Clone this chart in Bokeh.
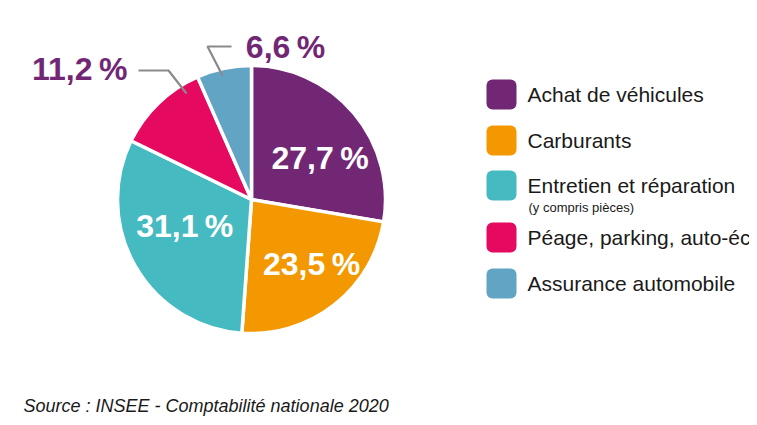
import numpy as np
from bokeh.plotting import figure
from bokeh.models import Range1d, ColumnDataSource
from bokeh.core.properties import value
from bokeh.embed import file_html
from bokeh.resources import INLINE

# ---- data ----
categories = ["Achat de véhicules", "Carburants", "Entretien et réparation",
              "Péage, parking, auto-éc", "Assurance automobile"]
shares = [27.7, 23.5, 31.1, 11.2, 6.6]
colors = ["#722775", "#F39800", "#45BBC1", "#E5095F", "#62A4C4"]
legend_note = "(y compris pièces)"
source_text = "Source : INSEE - Comptabilité nationale 2020"

# ---- layout ----
W, H = 749, 417
def X(rx):
    return rx
def Y(ry):
    return H - ry

CX, CY, R = X(251), Y(199), 134
# label polar positions (radius px, angle deg) per slice
label_polar = [(80, 31), (88, -47), (72, 202), (216, 142.7), (156, 77.4)]
label_inside = [True, True, True, False, False]
# leader lines for outside labels, offsets (dx, dy) from pie centre
leaders = {3: [(-113, 129), (-83, 129), (-65, 106)],
           4: [(-20, 153), (-44, 153), (-29, 124)]}
legend_rows = [94, 140, 185, 237, 283]
note_row = 207

FONT = "Liberation Sans"

p = figure(width=W, height=H, x_range=Range1d(0, W), y_range=Range1d(0, H),
           output_backend="svg", toolbar_location=None, min_border=0,
           x_axis_location=None, y_axis_location=None)
p.grid.visible = False
p.outline_line_color = None
p.background_fill_color = "white"
p.border_fill_color = "white"

# ---- pie ----
vals = np.array(shares, dtype=float)
frac = vals / vals.sum()
cum = np.concatenate([[0], np.cumsum(frac)[:-1]])
start = np.pi / 2 - 2 * np.pi * cum
end = start - 2 * np.pi * frac
src = ColumnDataSource(dict(start=start, end=end, color=colors))
p.wedge(x=CX, y=CY, radius=R, start_angle="start", end_angle="end",
        direction="clock", fill_color="color", line_color="white",
        line_width=3.5, source=src)

# ---- labels ----
txt = [f"{v:.1f}".replace(".", ",") + "\u2009%" for v in shares]
lx = [CX + r * np.cos(np.radians(a)) for r, a in label_polar]
ly = [CY + r * np.sin(np.radians(a)) for r, a in label_polar]
lc = ["white" if ins else "#722775" for ins in label_inside]
p.text(x=lx, y=ly, text=txt, text_color=lc, text_font=value(FONT),
       text_font_style="bold", text_font_size="32px",
       text_align="center", text_baseline="middle")

for i, pts in leaders.items():
    p.line(x=[CX + dx for dx, dy in pts], y=[CY + dy for dx, dy in pts],
           line_color="#8a8a8a", line_width=2.2)

# ---- legend ----
ly_leg = [Y(r) for r in legend_rows]
p.rect(x=[X(501)] * len(categories), y=ly_leg, width=30, height=30,
       fill_color=colors, line_color=None, border_radius=6)
p.text(x=[X(527)] * len(categories), y=ly_leg, text=categories,
       text_color="#1a1a1a", text_font=value(FONT), text_font_size="21px",
       text_align="left", text_baseline="middle")
p.text(x=[X(528)], y=[Y(note_row)], text=[legend_note], text_color="#1a1a1a",
       text_font=value(FONT), text_font_size="13px", text_align="left",
       text_baseline="middle")

# ---- source ----
p.text(x=[X(23)], y=[Y(405)], text=[source_text], text_color="#1a1a1a",
       text_font=value(FONT), text_font_size="18px", text_font_style="italic",
       text_align="left", text_baseline="alphabetic")

open("out.html", "w").write(file_html(p, INLINE))
